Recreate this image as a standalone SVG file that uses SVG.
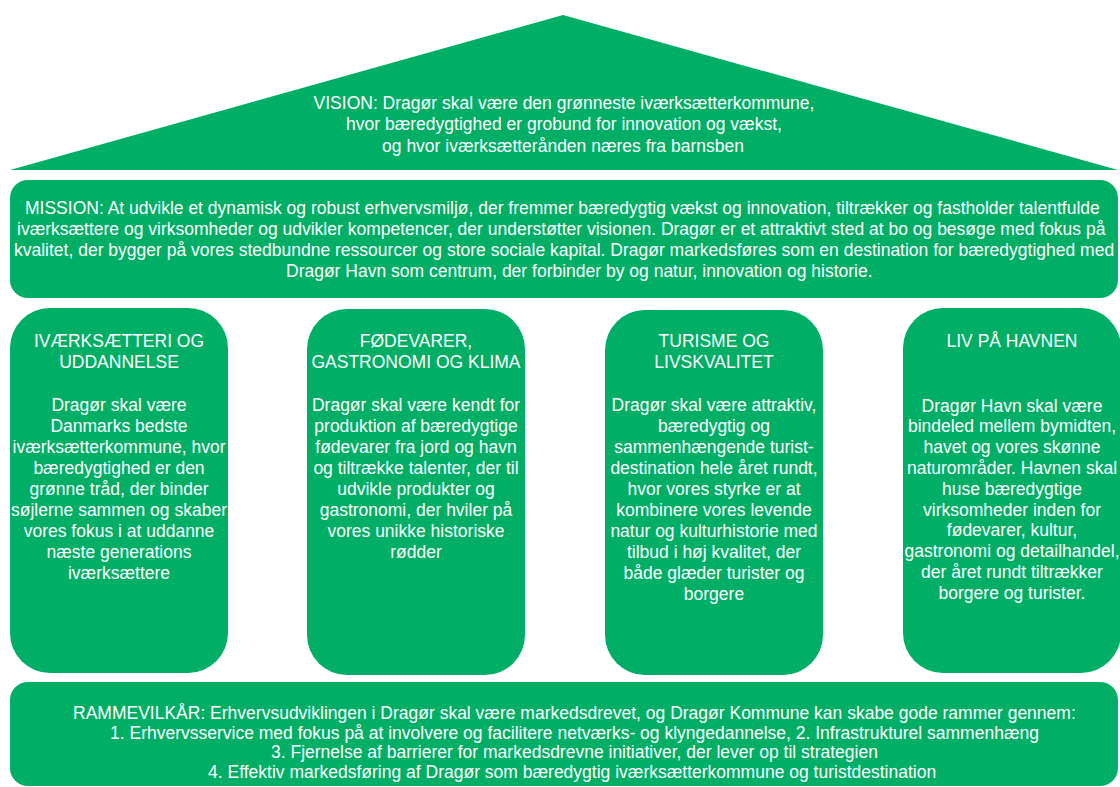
<svg xmlns="http://www.w3.org/2000/svg" width="1120" height="787" viewBox="0 0 1120 787">
<style>
.shape{fill:#00AE66;}
.t{font-family:"Liberation Sans",Arial,sans-serif;font-size:17.5px;fill:#ffffff;}
.c{text-anchor:middle;}
</style>
<rect width="1120" height="787" fill="#ffffff"/>
<g id="vision">
<polygon class="shape" points="563,15 1118,170 10,170"/>
<text class="t c" x="564" y="108.5">VISION: Dragør skal være den grønneste iværksætterkommune,</text>
<text class="t c" x="564" y="130">hvor bæredygtighed er grobund for innovation og vækst,</text>
<text class="t c" x="563" y="151.5">og hvor iværksætterånden næres fra barnsben</text>
</g>
<g id="mission">
<rect class="shape" x="10" y="180" width="1108" height="118" rx="18" ry="18"/>
<text class="t" x="25" y="213.5">MISSION: At udvikle et dynamisk og robust erhvervsmiljø, der fremmer bæredygtig vækst og innovation, tiltrækker og fastholder talentfulde</text>
<text class="t" x="17" y="234.5">iværksættere og virksomheder og udvikler kompetencer, der understøtter visionen. Dragør er et attraktivt sted at bo og besøge med fokus på</text>
<text class="t" x="14" y="255.5">kvalitet, der bygger på vores stedbundne ressourcer og store sociale kapital. Dragør markedsføres som en destination for bæredygtighed med</text>
<text class="t" x="286" y="276.5">Dragør Havn som centrum, der forbinder by og natur, innovation og historie.</text>
</g>
<g id="pillar1">
<rect class="shape" x="10" y="308" width="218" height="365" rx="40" ry="40"/>
<text class="t c" x="119" y="346.5">IVÆRKSÆTTERI OG</text>
<text class="t c" x="119" y="367.5">UDDANNELSE</text>
<text class="t c" x="119" y="410.5">Dragør skal være</text>
<text class="t c" x="119" y="431.6">Danmarks bedste</text>
<text class="t c" x="119" y="452.7">iværksætterkommune, hvor</text>
<text class="t c" x="119" y="473.8">bæredygtighed er den</text>
<text class="t c" x="119" y="494.9">grønne tråd, der binder</text>
<text class="t c" x="119" y="516">søjlerne sammen og skaber</text>
<text class="t c" x="119" y="537.1">vores fokus i at uddanne</text>
<text class="t c" x="119" y="558.2">næste generations</text>
<text class="t c" x="119" y="579.3">iværksættere</text>
</g>
<g id="pillar2">
<rect class="shape" x="307" y="309" width="218" height="366" rx="40" ry="40"/>
<text class="t c" x="416" y="346.5">FØDEVARER,</text>
<text class="t c" x="416" y="367.5">GASTRONOMI OG KLIMA</text>
<text class="t c" x="416" y="410.5">Dragør skal være kendt for</text>
<text class="t c" x="416" y="431.6">produktion af bæredygtige</text>
<text class="t c" x="416" y="452.7">fødevarer fra jord og havn</text>
<text class="t c" x="416" y="473.8">og tiltrække talenter, der til</text>
<text class="t c" x="416" y="494.9">udvikle produkter og</text>
<text class="t c" x="416" y="516">gastronomi, der hviler på</text>
<text class="t c" x="416" y="537.1">vores unikke historiske</text>
<text class="t c" x="416" y="558.2">rødder</text>
</g>
<g id="pillar3">
<rect class="shape" x="605" y="310" width="218" height="365" rx="40" ry="40"/>
<text class="t c" x="714" y="346.5">TURISME OG</text>
<text class="t c" x="714" y="367.5">LIVSKVALITET</text>
<text class="t c" x="714" y="410.5">Dragør skal være attraktiv,</text>
<text class="t c" x="714" y="431.6">bæredygtig og</text>
<text class="t c" x="714" y="452.7">sammenhængende turist-</text>
<text class="t c" x="714" y="473.8">destination hele året rundt,</text>
<text class="t c" x="714" y="494.9">hvor vores styrke er at</text>
<text class="t c" x="714" y="516">kombinere vores levende</text>
<text class="t c" x="714" y="537.1">natur og kulturhistorie med</text>
<text class="t c" x="714" y="558.2">tilbud i høj kvalitet, der</text>
<text class="t c" x="714" y="579.3">både glæder turister og</text>
<text class="t c" x="714" y="600.4">borgere</text>
</g>
<g id="pillar4">
<rect class="shape" x="903" y="308" width="218" height="365" rx="40" ry="40"/>
<text class="t c" x="1012" y="346.5">LIV PÅ HAVNEN</text>
<text class="t c" x="1012" y="411.5">Dragør Havn skal være</text>
<text class="t c" x="1012" y="432.3">bindeled mellem bymidten,</text>
<text class="t c" x="1012" y="453.1">havet og vores skønne</text>
<text class="t c" x="1012" y="473.9">naturområder. Havnen skal</text>
<text class="t c" x="1012" y="494.7">huse bæredygtige</text>
<text class="t c" x="1012" y="515.5">virksomheder inden for</text>
<text class="t c" x="1012" y="536.3">fødevarer, kultur,</text>
<text class="t c" x="1012" y="557.1">gastronomi og detailhandel,</text>
<text class="t c" x="1012" y="577.9">der året rundt tiltrækker</text>
<text class="t c" x="1012" y="598.7">borgere og turister.</text>
</g>
<g id="rammevilkaar">
<rect class="shape" x="10" y="682" width="1108" height="104" rx="18" ry="18"/>
<text class="t" x="73" y="718.5">RAMMEVILKÅR: Erhvervsudviklingen i Dragør skal være markedsdrevet, og Dragør Kommune kan skabe gode rammer gennem:</text>
<text class="t" x="110" y="738.5">1. Erhvervsservice med fokus på at involvere og facilitere netværks- og klyngedannelse, 2. Infrastrukturel sammenhæng</text>
<text class="t" x="271" y="758">3. Fjernelse af barrierer for markedsdrevne initiativer, der lever op til strategien</text>
<text class="t" x="208" y="777.5">4. Effektiv markedsføring af Dragør som bæredygtig iværksætterkommune og turistdestination</text>
</g>
</svg>
